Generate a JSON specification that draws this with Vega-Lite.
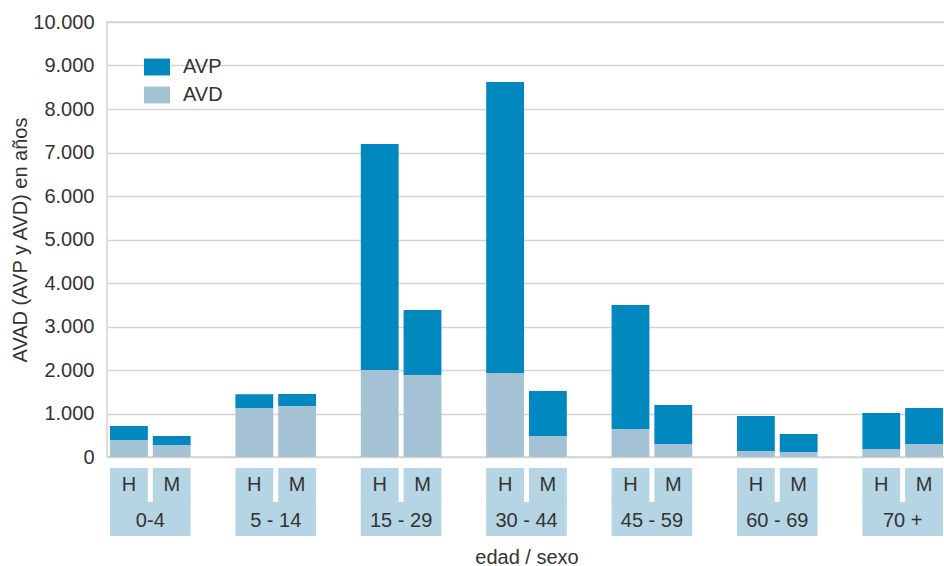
{
  "$schema": "https://vega.github.io/schema/vega-lite/v6.json",
  "padding": {"left": 10, "top": 11, "right": 0, "bottom": 0},
  "spacing": -6,
  "config": {
    "locale": {"number": {"decimal": ",", "thousands": ".", "grouping": [3], "currency": ["", " €"]}},
    "font": "Liberation Sans",
    "view": {"stroke": "#d4d4d4", "strokeWidth": 1.5},
    "axis": {"labelFont": "Liberation Sans", "titleFont": "Liberation Sans"}
  },
  "datasets": {
    "avad": [
      {"edad": "0-4", "sexo": "H", "tipo": "AVD", "valor": 390},
      {"edad": "0-4", "sexo": "H", "tipo": "AVP", "valor": 320},
      {"edad": "0-4", "sexo": "M", "tipo": "AVD", "valor": 275},
      {"edad": "0-4", "sexo": "M", "tipo": "AVP", "valor": 205},
      {"edad": "5 - 14", "sexo": "H", "tipo": "AVD", "valor": 1125},
      {"edad": "5 - 14", "sexo": "H", "tipo": "AVP", "valor": 320},
      {"edad": "5 - 14", "sexo": "M", "tipo": "AVD", "valor": 1170},
      {"edad": "5 - 14", "sexo": "M", "tipo": "AVP", "valor": 280},
      {"edad": "15 - 29", "sexo": "H", "tipo": "AVD", "valor": 2000},
      {"edad": "15 - 29", "sexo": "H", "tipo": "AVP", "valor": 5195},
      {"edad": "15 - 29", "sexo": "M", "tipo": "AVD", "valor": 1885},
      {"edad": "15 - 29", "sexo": "M", "tipo": "AVP", "valor": 1495},
      {"edad": "30 - 44", "sexo": "H", "tipo": "AVD", "valor": 1930},
      {"edad": "30 - 44", "sexo": "H", "tipo": "AVP", "valor": 6690},
      {"edad": "30 - 44", "sexo": "M", "tipo": "AVD", "valor": 485},
      {"edad": "30 - 44", "sexo": "M", "tipo": "AVP", "valor": 1030},
      {"edad": "45 - 59", "sexo": "H", "tipo": "AVD", "valor": 645},
      {"edad": "45 - 59", "sexo": "H", "tipo": "AVP", "valor": 2850},
      {"edad": "45 - 59", "sexo": "M", "tipo": "AVD", "valor": 300},
      {"edad": "45 - 59", "sexo": "M", "tipo": "AVP", "valor": 895},
      {"edad": "60 - 69", "sexo": "H", "tipo": "AVD", "valor": 140},
      {"edad": "60 - 69", "sexo": "H", "tipo": "AVP", "valor": 805},
      {"edad": "60 - 69", "sexo": "M", "tipo": "AVD", "valor": 115},
      {"edad": "60 - 69", "sexo": "M", "tipo": "AVP", "valor": 415},
      {"edad": "70 +", "sexo": "H", "tipo": "AVD", "valor": 185},
      {"edad": "70 +", "sexo": "H", "tipo": "AVP", "valor": 825},
      {"edad": "70 +", "sexo": "M", "tipo": "AVD", "valor": 300},
      {"edad": "70 +", "sexo": "M", "tipo": "AVP", "valor": 825}
    ]
  },
  "vconcat": [
    {
      "width": 839,
      "height": 435,
      "data": {"name": "avad"},
      "mark": {"type": "bar"},
      "encoding": {
        "x": {
          "field": "edad", "type": "nominal",
          "scale": {"domain": ["0-4", "5 - 14", "15 - 29", "30 - 44", "45 - 59", "60 - 69", "70 +"], "paddingInner": 0.357, "paddingOuter": 0.024},
          "axis": null
        },
        "xOffset": {
          "field": "sexo", "type": "nominal",
          "scale": {"domain": ["H", "M"], "paddingInner": 0.116, "paddingOuter": 0}
        },
        "y": {
          "field": "valor", "type": "quantitative", "stack": "zero",
          "scale": {"domain": [0, 10000], "nice": false},
          "axis": {
            "values": [0, 1000, 2000, 3000, 4000, 5000, 6000, 7000, 8000, 9000, 10000],
            "format": ",d",
            "title": "AVAD (AVP y AVD) en años",
            "titleFontSize": 20, "titleFontWeight": "normal", "titleColor": "#333333", "titlePadding": 2,
            "labelFontSize": 20, "labelColor": "#333333", "labelPadding": 13,
            "ticks": false, "domain": false,
            "grid": true, "gridColor": "#d4d4d4", "gridWidth": 1.5
          }
        },
        "color": {
          "field": "tipo", "type": "nominal",
          "scale": {"domain": ["AVP", "AVD"], "range": ["#0088bf", "#a4c2d3"]},
          "legend": {
            "title": null, "orient": "none", "legendX": 37, "legendY": 32,
            "padding": 0, "labelFontSize": 20, "labelColor": "#333333", "labelOffset": 13,
            "symbolType": "M-1,-0.65H1V0.65H-1Z", "symbolSize": 676, "symbolStrokeWidth": 0,
            "symbolOpacity": 1, "rowPadding": 5
          }
        },
        "order": {"field": "tipo", "sort": "ascending"}
      }
    },
    {
      "width": 839,
      "height": 68,
      "view": {"stroke": null},
      "data": {"name": "avad"},
      "transform": [{"filter": "datum.tipo === 'AVP'"}],
      "encoding": {
        "x": {
          "field": "edad", "type": "nominal",
          "scale": {"domain": ["0-4", "5 - 14", "15 - 29", "30 - 44", "45 - 59", "60 - 69", "70 +"], "paddingInner": 0.357, "paddingOuter": 0.024},
          "axis": {"labels": false, "ticks": false, "domain": false, "title": "edad / sexo", "titleFontSize": 20, "titleFontWeight": "normal", "titleColor": "#333333", "titlePadding": 11}
        }
      },
      "layer": [
        {
          "mark": {"type": "bar", "color": "#b5d5e4"},
          "encoding": {
            "xOffset": {"field": "sexo", "type": "nominal", "scale": {"domain": ["H", "M"], "paddingInner": 0.116, "paddingOuter": 0}},
            "y": {"datum": 2, "type": "quantitative", "scale": {"domain": [0, 2], "nice": false}, "axis": null},
            "y2": {"datum": 0.94}
          }
        },
        {
          "transform": [{"filter": "datum.sexo === 'H'"}],
          "mark": {"type": "bar", "color": "#b5d5e4"},
          "encoding": {
            "y": {"datum": 1, "type": "quantitative"},
            "y2": {"datum": 0}
          }
        },
        {
          "mark": {"type": "text", "fontSize": 20, "color": "#333333", "baseline": "middle"},
          "encoding": {
            "xOffset": {"field": "sexo", "type": "nominal"},
            "y": {"datum": 1.5, "type": "quantitative"},
            "text": {"field": "sexo"}
          }
        },
        {
          "transform": [{"filter": "datum.sexo === 'H'"}],
          "mark": {"type": "text", "fontSize": 20, "color": "#333333", "baseline": "middle"},
          "encoding": {
            "y": {"datum": 0.45, "type": "quantitative"},
            "text": {"field": "edad"}
          }
        }
      ]
    }
  ]
}
